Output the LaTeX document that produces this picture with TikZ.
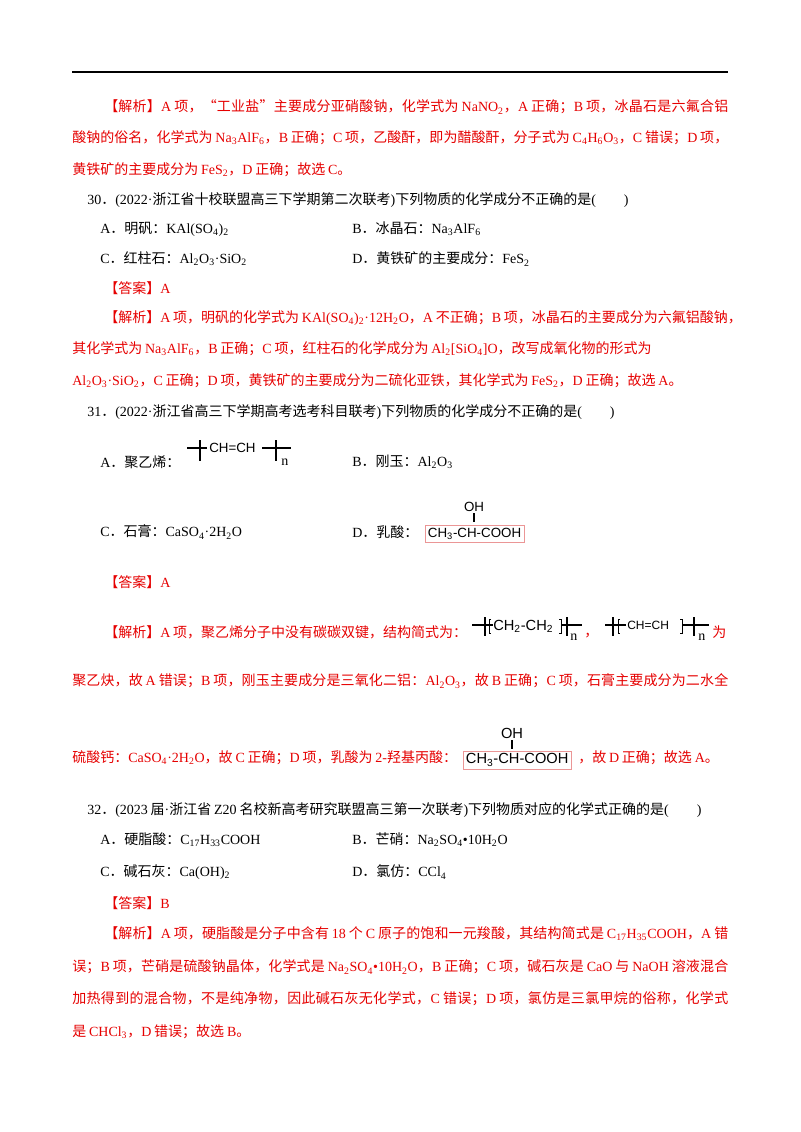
\documentclass[tikz,border=0pt]{standalone}
\usepackage{fontspec}
\setmainfont{Liberation Serif}
\newfontfamily\cjk{Noto Sans CJK SC}
\newfontfamily\lat{Liberation Serif}
\newfontfamily\chemf{Liberation Sans}
\definecolor{ansred}{RGB}{230,0,0}
\definecolor{boxpink}{RGB}{235,150,150}
\XeTeXinterchartokenstate=1
\newXeTeXintercharclass\CJKcls
\newXeTeXintercharclass\CJKp
\newXeTeXintercharclass\LPun
\count255="4E00 \loop \XeTeXcharclass\count255=\CJKcls \advance\count255 by 1 \ifnum\count255<"A000 \repeat
\count255="3000 \loop \XeTeXcharclass\count255=\CJKp \advance\count255 by 1 \ifnum\count255<"3040 \repeat
\count255="FF00 \loop \XeTeXcharclass\count255=\CJKp \advance\count255 by 1 \ifnum\count255<"FFF0 \repeat
\XeTeXcharclass"201C=\CJKp \XeTeXcharclass"201D=\CJKp
\XeTeXcharclass"00B7=\LPun \XeTeXcharclass"0028=\LPun \XeTeXcharclass"0029=\LPun \XeTeXcharclass"002D=\LPun
\XeTeXinterchartoks 0 \CJKcls = {\hskip0.2em plus 3pt\cjk}
\XeTeXinterchartoks 4095 \CJKcls = {\cjk}
\XeTeXinterchartoks \LPun \CJKcls = {\cjk}
\XeTeXinterchartoks \CJKcls 0 = {\hskip0.2em plus 3pt\lat}
\XeTeXinterchartoks \CJKcls 4095 = {\lat}
\XeTeXinterchartoks \CJKcls \LPun = {\lat}
\XeTeXinterchartoks \CJKcls \CJKcls = {\hskip0pt plus 3pt}
\XeTeXinterchartoks 0 \CJKp = {\hskip0pt plus 3pt\cjk}
\XeTeXinterchartoks 4095 \CJKp = {\cjk}
\XeTeXinterchartoks \LPun \CJKp = {\cjk}
\XeTeXinterchartoks \CJKp 0 = {\hskip0pt plus 3pt\lat}
\XeTeXinterchartoks \CJKp 4095 = {\lat}
\XeTeXinterchartoks \CJKp \LPun = {\lat}
\XeTeXinterchartoks \CJKp \CJKp = {\hskip0pt plus 3pt}
\XeTeXinterchartoks \CJKp \CJKcls = {\hskip0pt plus 3pt}
\XeTeXinterchartoks \CJKcls \CJKp = {\hskip0pt plus 3pt}
\newcommand\s[1]{\textsubscript{#1}}
\begin{document}
\begin{tikzpicture}[x=0.75pt,y=-0.75pt,
  txt/.style={anchor=west,inner sep=0pt,font=\fontsize{10.5pt}{12pt}\selectfont},
  red/.style={text=ansred},
  chem/.style={inner sep=0pt,font=\chemf\fontsize{10pt}{12pt}\selectfont},
  bar/.style={line width=0.9pt}]
\useasboundingbox[fill=white] (0,0) rectangle (800,1132);
\draw[line width=0.8pt] (72,72) -- (728,72);
% block 1
\node[txt,red] (p1) at (104,107) {\hbox to 468pt{【解析】A项，“工业盐”主要成分亚硝酸钠，化学式为NaNO\s{2}，A正确；B项，冰晶石是六氟合铝}};
\node[txt,red] (p2) at (72,138) {\hbox to 492pt{酸钠的俗名，化学式为Na\s{3}AlF\s{6}，B正确；C项，乙酸酐，即为醋酸酐，分子式为C\s{4}H\s{6}O\s{3}，C错误；D项，}};
\node[txt,red] (p3) at (72,170) {黄铁矿的主要成分为FeS\s{2}，D正确；故选C。};
% Q30
\node[txt] (q30) at (87,200) {30．(2022·浙江省十校联盟高三下学期第二次联考)下列物质的化学成分不正确的是(\hspace{2em})};
\node[txt] (q30a) at (100,229) {A．明矾：KAl(SO\s{4})\s{2}};
\node[txt] (q30b) at (352,229) {B．冰晶石：Na\s{3}AlF\s{6}};
\node[txt] (q30c) at (100,259) {C．红柱石：Al\s{2}O\s{3}·SiO\s{2}};
\node[txt] (q30d) at (352,259) {D．黄铁矿的主要成分：FeS\s{2}};
\node[txt,red] (a30) at (104,288) {【答案】A};
\node[txt,red] (e30a) at (104,318) {\hbox to 468pt{【解析】A项，明矾的化学式为KAl(SO\s{4})\s{2}·12H\s{2}O，A不正确；B项，冰晶石的主要成分为六氟铝酸钠，}};
\node[txt,red] (e30b) at (72,349) {其化学式为Na\s{3}AlF\s{6}，B正确；C项，红柱石的化学成分为Al\s{2}[SiO\s{4}]O，改写成氧化物的形式为};
\node[txt,red] (e30c) at (72,381) {Al\s{2}O\s{3}·SiO\s{2}，C正确；D项，黄铁矿的主要成分为二硫化亚铁，其化学式为FeS\s{2}，D正确；故选A。};
% Q31
\node[txt] (q31) at (87,412) {31．(2022·浙江省高三下学期高考选考科目联考)下列物质的化学成分不正确的是(\hspace{2em})};
\node[txt] (q31a) at (100,462) {A．聚乙烯：};
\draw[bar] (187,448) -- (207,448) (200,440) -- (200,461);
\node[chem,anchor=west] (s1) at (209,448) {CH=CH};
\draw[bar] (262,448) -- (291,448) (276,440) -- (276,461);
\node[txt,anchor=west] (n1) at (281,462) {n};
\node[txt] (q31b) at (352,462) {B．刚玉：Al\s{2}O\s{3}};
\node[txt] (q31c) at (100,532) {C．石膏：CaSO\s{4}·2H\s{2}O};
\node[txt] (q31d) at (352,532) {D．乳酸：};
\node[chem,draw=boxpink,line width=0.4pt,inner sep=2pt,anchor=west] (lac1) at (425,534) {CH\s{3}-CH-COOH};
\node[chem] (oh1) at (474,507) {OH};
\draw[line width=0.8pt] (474,513) -- (474,522);
\node[txt,red] (a31) at (104,582) {【答案】A};
\node[txt,red] (e31a) at (104,632) {【解析】A项，聚乙烯分子中没有碳碳双键，结构简式为：};
\draw[bar] (472,625) -- (493,625) (485,617) -- (485,636);
\draw[line width=0.5pt] (491,619) -- (489,619) -- (489,633) -- (491,633);
\node[chem,anchor=west,font=\chemf\fontsize{11pt}{12pt}\selectfont] (s2) at (493,626) {CH\s{2}-CH\s{2}};
\draw[line width=0.5pt] (559,619) -- (561,619) -- (561,633) -- (559,633);
\draw[bar] (561,625) -- (582,625) (567,617) -- (567,636);
\node[txt,anchor=west] (n2) at (570,637) {n};
\node[txt,red] (comma) at (584,636) {，};
\draw[bar] (605,625) -- (626,625) (613,617) -- (613,636);
\draw[line width=0.5pt] (620,619) -- (618,619) -- (618,633) -- (620,633);
\node[chem,anchor=west,font=\chemf\fontsize{9pt}{12pt}\selectfont] (s3) at (627,625) {CH=CH};
\draw[line width=0.5pt] (680,619) -- (682,619) -- (682,633) -- (680,633);
\draw[bar] (682,625) -- (709,625) (694,617) -- (694,636);
\node[txt,anchor=west] (n3) at (698,637) {n};
\node[txt,red] (wei) at (712,632) {为};
\node[txt,red] (e31b) at (72,681) {\hbox to 492pt{聚乙炔，故A错误；B项，刚玉主要成分是三氧化二铝：Al\s{2}O\s{3}，故B正确；C项，石膏主要成分为二水全}};
\node[txt,red] (e31c) at (72,758) {硫酸钙：CaSO\s{4}·2H\s{2}O，故C正确；D项，乳酸为2-羟基丙酸：};
\node[chem,draw=boxpink,line width=0.4pt,inner sep=2pt,anchor=west,font=\chemf\fontsize{11pt}{12pt}\selectfont] (lac2) at (463,760) {CH\s{3}-CH-COOH};
\node[chem,font=\chemf\fontsize{11pt}{12pt}\selectfont] (oh2) at (512,733) {OH};
\draw[line width=0.8pt] (512,740) -- (512,749);
\node[txt,red] (e31d) at (578,758) {，故D正确；故选A。};
% Q32
\node[txt] (q32) at (87,810) {32．(2023届·浙江省Z20名校新高考研究联盟高三第一次联考)下列物质对应的化学式正确的是(\hspace{2em})};
\node[txt] (q32a) at (100,840) {A．硬脂酸：C\s{17}H\s{33}COOH};
\node[txt] (q32b) at (352,840) {B．芒硝：Na\s{2}SO\s{4}•10H\s{2}O};
\node[txt] (q32c) at (100,872) {C．碱石灰：Ca(OH)\s{2}};
\node[txt] (q32d) at (352,872) {D．氯仿：CCl\s{4}};
\node[txt,red] (a32) at (104,903) {【答案】B};
\node[txt,red] (e32a) at (104,934) {\hbox to 468pt{【解析】A项，硬脂酸是分子中含有18个C原子的饱和一元羧酸，其结构简式是C\s{17}H\s{35}COOH，A错}};
\node[txt,red] (e32b) at (72,967) {\hbox to 492pt{误；B项，芒硝是硫酸钠晶体，化学式是Na\s{2}SO\s{4}•10H\s{2}O，B正确；C项，碱石灰是CaO与NaOH溶液混合}};
\node[txt,red] (e32c) at (72,999) {\hbox to 492pt{加热得到的混合物，不是纯净物，因此碱石灰无化学式，C错误；D项，氯仿是三氯甲烷的俗称，化学式}};
\node[txt,red] (e32d) at (72,1032) {是CHCl\s{3}，D错误；故选B。};
\end{tikzpicture}
\end{document}
